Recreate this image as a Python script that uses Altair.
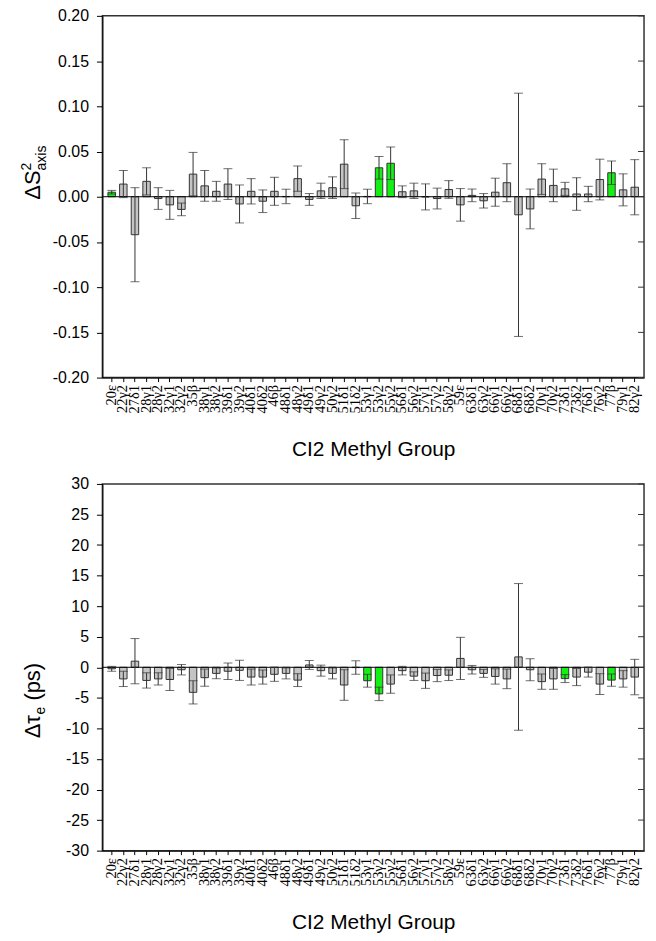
import altair as alt
import pandas as pd

groups = ["20ε", "22γ2", "27δ1", "28γ1", "28γ2", "32γ1", "32γ2", "35β", "38γ1", "38γ2",
          "39δ1", "39γ2", "40δ1", "40δ2", "46β", "48δ1", "48γ2", "49δ1", "49γ2", "50γ2",
          "51δ1", "51δ2", "53γ1", "53γ2", "55γ2", "56δ1", "56γ2", "57γ1", "57γ2", "58γ2",
          "59ε", "63δ1", "63γ2", "66γ1", "66γ2", "68δ1", "68δ2", "70γ1", "70γ2", "73δ1",
          "73δ2", "76δ1", "76γ2", "77β", "79γ1", "82γ2"]

ds2 = [0.005, 0.014, -0.042, 0.017, -0.002, -0.009, -0.014, 0.025, 0.012, 0.006,
       0.014, -0.008, 0.006, -0.005, 0.006, 0.0003, 0.020, -0.003, 0.0065, 0.010,
       0.036, -0.010, 0.0003, 0.032, 0.037, 0.0055, 0.0065, -0.0002, -0.002, 0.008,
       -0.009, 0.0015, -0.0045, 0.005, 0.0155, -0.020, -0.0135, 0.0195, 0.0125, 0.0087,
       0.003, 0.003, 0.019, 0.0265, 0.0076, 0.0105]
ds2_err = [0.002, 0.015, 0.052, 0.015, 0.012, 0.016, 0.007, 0.024, 0.017, 0.011,
           0.017, 0.021, 0.014, 0.0125, 0.0155, 0.008, 0.014, 0.0065, 0.0085, 0.012,
           0.027, 0.014, 0.008, 0.0125, 0.018, 0.0065, 0.0085, 0.0144, 0.0115, 0.0098,
           0.018, 0.007, 0.008, 0.0155, 0.021, 0.1345, 0.022, 0.017, 0.018, 0.0072,
           0.018, 0.0085, 0.0225, 0.013, 0.0177, 0.0305]
ds2_sig = ["20ε", "53γ2", "55γ2", "77β"]

dtau = [-0.25, -1.9, 1.0, -2.15, -1.9, -2.0, -0.4, -4.1, -1.7, -1.0,
        -0.65, -0.5, -1.6, -1.6, -1.15, -1.0, -2.1, 0.38, -0.55, -1.0,
        -2.9, -0.05, -2.2, -4.35, -2.75, -0.55, -1.45, -2.2, -1.35, -1.3,
        1.45, -0.4, -1.0, -1.5, -1.9, 1.7, -0.4, -2.35, -1.9, -1.85,
        -1.6, -0.8, -2.75, -2.1, -1.9, -1.6]
dtau_err = [0.4, 1.25, 3.7, 1.25, 1.0, 1.8, 0.85, 1.9, 1.4, 0.87,
            1.35, 1.65, 1.3, 1.15, 1.15, 0.9, 1.05, 0.73, 0.9, 0.9,
            2.5, 1.1, 1.05, 1.1, 1.5, 0.7, 0.7, 1.25, 1.0, 0.87,
            3.45, 0.7, 0.65, 1.25, 1.6, 12.0, 1.8, 1.25, 1.7, 0.65,
            1.4, 0.8, 1.7, 1.0, 1.35, 2.9]
dtau_sig = ["53γ1", "53γ2", "73δ1", "77β"]

ds2_ticks = [-0.20, -0.15, -0.10, -0.05, 0.0, 0.05, 0.10, 0.15, 0.20]
dtau_ticks = [-30, -25, -20, -15, -10, -5, 0, 5, 10, 15, 20, 25, 30]

W = 545
GRAY = "#c4c4c4"
GREEN = "#14f014"
LINE = "#333333"


def panel(values, errs, sig, ticks, fmt, title_parts, H):
    df = pd.DataFrame({"group": groups, "value": values, "err": errs})
    df["lo"] = df["value"] - df["err"]
    df["hi"] = df["value"] + df["err"]
    df["zero"] = 0.0
    df["sig"] = ["yes" if g in sig else "no" for g in groups]

    x = alt.X("group:N", sort=groups,
              scale=alt.Scale(paddingInner=0, paddingOuter=0.3),
              axis=alt.Axis(title="CI2 Methyl Group", labelAngle=270,
                            labelFont="Liberation Serif", labelFontSize=14.5,
                            labelOverlap=False, labelPadding=3, tickSize=4,
                            titleFont="Liberation Sans", titleFontSize=21,
                            titleFontWeight="normal", titlePadding=26))
    yscale = alt.Scale(domain=[ticks[0], ticks[-1]], nice=False, zero=False)
    lab = ("datum.value < 0 ? '-' + format(-datum.value, '%s') : format(datum.value, '%s')"
           % (fmt, fmt))
    yaxis = alt.Axis(title=None, values=ticks, labelExpr=lab, labelFontSize=16,
                     labelFont="Liberation Sans", tickSize=6, labelPadding=8)

    base = alt.Chart(df)
    bars = base.mark_bar(size=7.5, stroke=LINE, strokeWidth=1).encode(
        x=x,
        y=alt.Y("value:Q", scale=yscale, axis=yaxis),
        y2=alt.Y2("zero:Q"),
        color=alt.Color("sig:N", scale=alt.Scale(domain=["no", "yes"], range=[GRAY, GREEN]),
                        legend=None),
    )
    zero = alt.Chart(pd.DataFrame({"z": [0.0]})).mark_rule(color="black", strokeWidth=1).encode(
        y=alt.Y("z:Q", scale=yscale, axis=yaxis))
    err = base.mark_rule(color=LINE, strokeWidth=1).encode(
        x=x, y=alt.Y("lo:Q", scale=yscale, axis=yaxis), y2="hi:Q")
    cap_hi = base.mark_tick(color=LINE, thickness=1, size=9, orient="horizontal").encode(
        x=x, y=alt.Y("hi:Q", scale=yscale, axis=yaxis))
    cap_lo = base.mark_tick(color=LINE, thickness=1, size=9, orient="horizontal").encode(
        x=x, y=alt.Y("lo:Q", scale=yscale, axis=yaxis))
    rticks = alt.Chart(pd.DataFrame({"t": ticks})).mark_rule(color=LINE, strokeWidth=1).encode(
        y=alt.Y("t:Q", scale=yscale, axis=yaxis), x=alt.value(W - 6), x2=alt.value(W))

    texts = []
    for txt, size, xv, yv in title_parts:
        texts.append(
            alt.Chart(pd.DataFrame({"t": [txt]})).mark_text(
                angle=270, align="left", baseline="alphabetic", fontSize=size,
                font="Liberation Sans", color="black").encode(
                text="t:N", x=alt.value(xv), y=alt.value(yv)))

    return alt.layer(bars, zero, err, cap_hi, cap_lo, rticks, *texts).properties(
        width=W, height=H)


top_title = [("ΔS", 22, -63, 185), ("2", 14, -72, 155.5), ("axis", 14, -57, 155.5)]
bot_title = [("Δτ", 22, -63, 256), ("e", 14, -58, 232), ("(ps)", 22, -63, 218)]

top = panel(ds2, ds2_err, ds2_sig, ds2_ticks, ".2f", top_title, 364)
bottom = panel(dtau, dtau_err, dtau_sig, dtau_ticks, "d", bot_title, 369)

chart = alt.vconcat(top, bottom, spacing=14).properties(
    padding={"left": 11, "top": -4, "right": 2, "bottom": 0}
).configure_view(stroke=LINE, strokeWidth=1.5).configure_axis(
    domainColor="black", tickColor="black", labelColor="black", titleColor="black",
    grid=False
)

chart.save("out.html", embed_options={"renderer": "svg", "actions": False})
